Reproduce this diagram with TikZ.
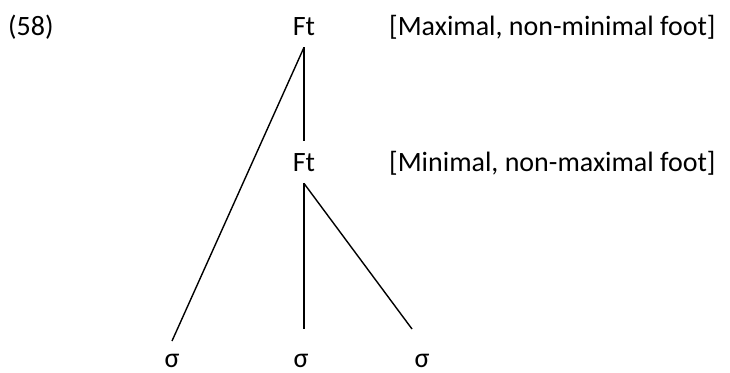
\documentclass[tikz,border=0pt]{standalone}
\usepackage{fontspec}
\setmainfont{Carlito}
\begin{document}
\begin{tikzpicture}[x=1pt,y=-1pt,
  txt/.style={inner sep=0pt,font=\fontsize{28}{34}\selectfont},
  ftnode/.style={txt,inner ysep=12pt,anchor=base},
  branch/.style={line width=1.4pt,black}]
\useasboundingbox (0,0) rectangle (730,372);
\node[txt,anchor=base west] (ex) at (8,35) {(58)};
\node[ftnode] (ft1) at (304,35) {Ft};
\node[txt,anchor=base west] (lab1) at (389,35) {[Maximal, non-minimal foot]};
\node[ftnode] (ft2) at (304,171) {Ft};
\node[txt,anchor=base west] (lab2) at (389,171) {[Minimal, non-maximal foot]};
\node[txt,anchor=base] (s1) at (172,367) {σ};
\node[txt,anchor=base] (s2) at (301,367) {σ};
\node[txt,anchor=base] (s3) at (422,367) {σ};
\coordinate (e1) at (172,341);
\coordinate (e2) at (304,329);
\coordinate (e3) at (412,329);
\draw[branch] (ft1.south) -- (ft2.north);
\draw[branch] (ft1.south) -- (e1);
\draw[branch] (ft2.south) -- (e2);
\draw[branch] (ft2.south) -- (e3);
\end{tikzpicture}
\end{document}
